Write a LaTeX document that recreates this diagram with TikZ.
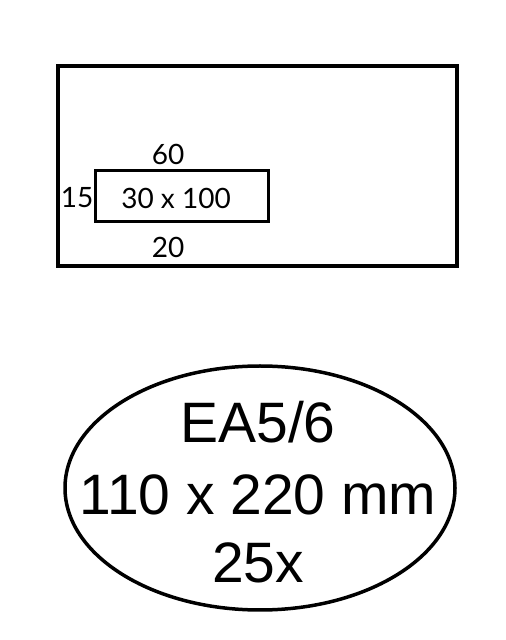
\documentclass[tikz,border=0pt]{standalone}
\usepackage{fontspec}
\setmainfont{Liberation Sans}
\newfontfamily\dimfont{Lato}

\begin{document}
\begin{tikzpicture}[x=1pt, y=1pt,
  dimlabel/.style={font=\dimfont\fontsize{28}{28}\selectfont, inner sep=0pt},
  biglabel/.style={font=\fontsize{57}{57}\selectfont, inner sep=0pt, anchor=base}]

  \useasboundingbox (0, 0) rectangle (506, 640) ;

  % envelope
  \draw [line width=3.5pt] (58, 374) rectangle (457, 574) ;

  % window
  \draw [line width=3pt] (95, 418) rectangle (268, 469) ;
  \node [dimlabel] (window) at (176, 442) {30 x 100} ;

  % window position
  \node [dimlabel] (top)    at (168, 486) {60} ;
  \node [dimlabel] (left)   at (77, 442)  {15} ;
  \node [dimlabel] (bottom) at (168, 393) {20} ;

  % label
  \draw [line width=3.5pt] (260, 152) ellipse [x radius=195, y radius=122] ;
  \node [biglabel] (type)  at (258, 197) {EA5/6} ;
  \node [biglabel] (size)  at (258, 125) {110 x 220 mm} ;
  \node [biglabel] (count) at (258, 57)  {25x} ;

\end{tikzpicture}
\end{document}
